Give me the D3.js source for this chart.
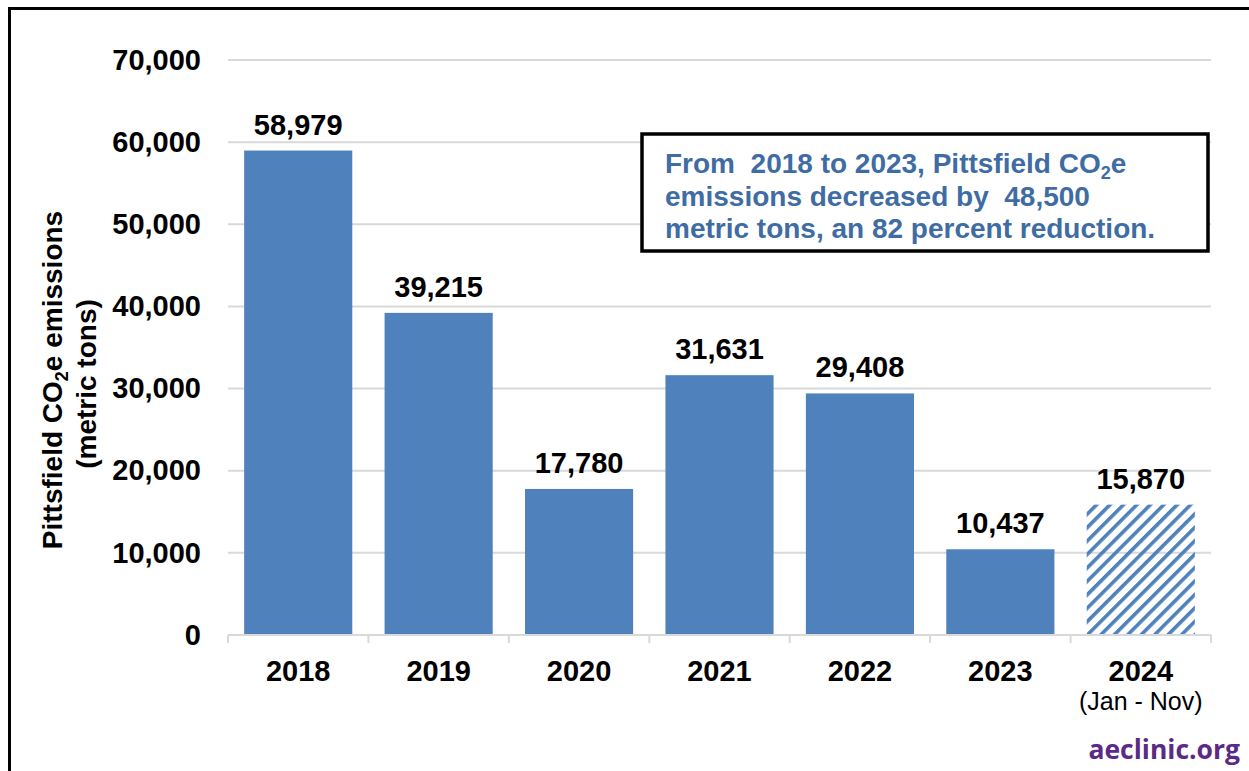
<!DOCTYPE html>
<html>
<head>
<meta charset="utf-8">
<script src="https://cdn.jsdelivr.net/npm/d3@7"></script>
<style>
    html, body { margin: 0; padding: 0; background: #fff; }
    svg { display: block; font-family: "Liberation Sans", Arial, sans-serif; }
</style>
</head>
<body>
<div id="chart"></div>
<script>
// chart values
let years = ["2018", "2019", "2020", "2021", "2022", "2023", "2024"];
let emissions = [58979, 39215, 17780, 31631, 29408, 10437, 15870];
let subLabels = ["", "", "", "", "", "", "(Jan - Nov)"];
let partialYear = [false, false, false, false, false, false, true];
let yTicks = [0, 10000, 20000, 30000, 40000, 50000, 60000, 70000];
let noteLines = [
    ["From  2018 to 2023, Pittsfield CO", "2", "e"],
    ["emissions decreased by  48,500"],
    ["metric tons, an 82 percent reduction."]
];

let width = 1249, height = 771,
    barBlue = "#4f81bd",
    noteBlue = "#3f6da3",
    gridGrey = "#d9d9d9",
    labelSize = 29,
    fmt = d3.format(",");

let data = years.map((y, i) => ({ year: y, value: emissions[i], sub: subLabels[i], partial: partialYear[i] }));

let svg = d3.select("#chart").append("svg")
    .attr("width", width)
    .attr("height", height);

// hatch for the incomplete year
svg.append("defs").append("pattern")
    .attr("id", "hatch")
    .attr("patternUnits", "userSpaceOnUse")
    .attr("width", 9.5)
    .attr("height", 9.5)
    .attr("patternTransform", "rotate(45)")
    .append("rect")
    .attr("x", 0).attr("y", 0)
    .attr("width", 3.6).attr("height", 9.5)
    .attr("fill", barBlue);

// outer frame
svg.append("path")
    .attr("d", "M9.5," + (height + 5) + "V8.5H" + (width + 5))
    .attr("fill", "none")
    .attr("stroke", "#000")
    .attr("stroke-width", 3);

let x = d3.scaleBand().domain(years).range([228, 1211]).paddingInner(0.23).paddingOuter(0.115),
    y = d3.scaleLinear().domain([0, 70000]).range([635, 60]);

// gridlines
svg.append("g")
    .selectAll("line")
    .data(yTicks.filter(d => d > 0))
    .enter().append("line")
    .attr("x1", 228).attr("x2", 1211)
    .attr("y1", d => y(d)).attr("y2", d => y(d))
    .attr("stroke", gridGrey)
    .attr("stroke-width", 2);

// y axis labels
let yAxis = svg.append("g")
    .attr("transform", "translate(228,0)")
    .call(d3.axisLeft(y).tickValues(yTicks).tickFormat(fmt).tickSize(0).tickPadding(27));
yAxis.select(".domain").remove();
yAxis.selectAll("text")
    .attr("font-size", labelSize)
    .attr("font-weight", "bold")
    .attr("fill", "#000")
    .attr("font-family", "Liberation Sans, Arial, sans-serif");

// bars
svg.append("g")
    .selectAll("rect")
    .data(data)
    .enter().append("rect")
    .attr("x", d => x(d.year))
    .attr("y", d => y(d.value))
    .attr("width", x.bandwidth())
    .attr("height", d => y(0) - y(d.value))
    .attr("fill", d => d.partial ? "url(#hatch)" : barBlue);

// x axis line with category dividers
let step = x.step(),
    xStart = x.range()[0];
let xAxis = svg.append("g").attr("class", "axis axis--x");
xAxis.append("line")
    .attr("x1", xStart).attr("x2", x.range()[1])
    .attr("y1", y(0)).attr("y2", y(0))
    .attr("stroke", gridGrey)
    .attr("stroke-width", 2);
xAxis.selectAll(".divider")
    .data(d3.range(years.length + 1))
    .enter().append("line")
    .attr("class", "divider")
    .attr("x1", i => xStart + i * step).attr("x2", i => xStart + i * step)
    .attr("y1", y(0)).attr("y2", y(0) + 8)
    .attr("stroke", gridGrey)
    .attr("stroke-width", 2);

// category labels
xAxis.selectAll(".year")
    .data(data)
    .enter().append("text")
    .attr("class", "year")
    .attr("x", d => x(d.year) + x.bandwidth() / 2)
    .attr("y", 681)
    .attr("text-anchor", "middle")
    .attr("font-size", labelSize)
    .attr("font-weight", "bold")
    .text(d => d.year);
xAxis.selectAll(".sub")
    .data(data.filter(d => d.sub))
    .enter().append("text")
    .attr("class", "sub")
    .attr("x", d => x(d.year) + x.bandwidth() / 2)
    .attr("y", 710)
    .attr("text-anchor", "middle")
    .attr("font-size", 25)
    .text(d => d.sub);

// value labels
svg.append("g")
    .selectAll("text")
    .data(data)
    .enter().append("text")
    .attr("x", d => x(d.year) + x.bandwidth() / 2)
    .attr("y", d => y(d.value) - 16)
    .attr("text-anchor", "middle")
    .attr("font-size", labelSize)
    .attr("font-weight", "bold")
    .text(d => fmt(d.value));

// y axis title
let yTitle = svg.append("text")
    .attr("transform", "translate(62,380) rotate(-90)")
    .attr("text-anchor", "middle")
    .attr("font-size", 28)
    .attr("font-weight", "bold");
yTitle.append("tspan").text("Pittsfield CO");
yTitle.append("tspan").attr("font-size", 18).attr("dy", 6).text("2");
yTitle.append("tspan").attr("dy", -6).text("e emissions");
svg.append("text")
    .attr("transform", "translate(96,384) rotate(-90)")
    .attr("text-anchor", "middle")
    .attr("font-size", 28)
    .attr("font-weight", "bold")
    .text("(metric tons)");

// note box
svg.append("rect")
    .attr("x", 642).attr("y", 134)
    .attr("width", 566).attr("height", 117)
    .attr("fill", "#fff")
    .attr("stroke", "#000")
    .attr("stroke-width", 3.5);
let note = svg.append("g").attr("fill", noteBlue).attr("font-size", 28).attr("font-weight", "bold");
noteLines.forEach((parts, i) => {
    let t = note.append("text")
        .attr("x", 665)
        .attr("y", 173 + i * 32.5)
        .attr("xml:space", "preserve");
    t.append("tspan").text(parts[0]);
    if (parts.length > 1) {
        t.append("tspan").attr("font-size", 18).attr("dy", 6).text(parts[1]);
        t.append("tspan").attr("dy", -6).text(parts[2]);
    }
});

// source mark
svg.append("text")
    .attr("x", 1240)
    .attr("y", 759)
    .attr("text-anchor", "end")
    .attr("font-family", "'Open Sans', sans-serif")
    .attr("font-size", 26.5)
    .attr("font-weight", "bold")
    .attr("fill", "#5b2a86")
    .text("aeclinic.org");
</script>
</body>
</html>
